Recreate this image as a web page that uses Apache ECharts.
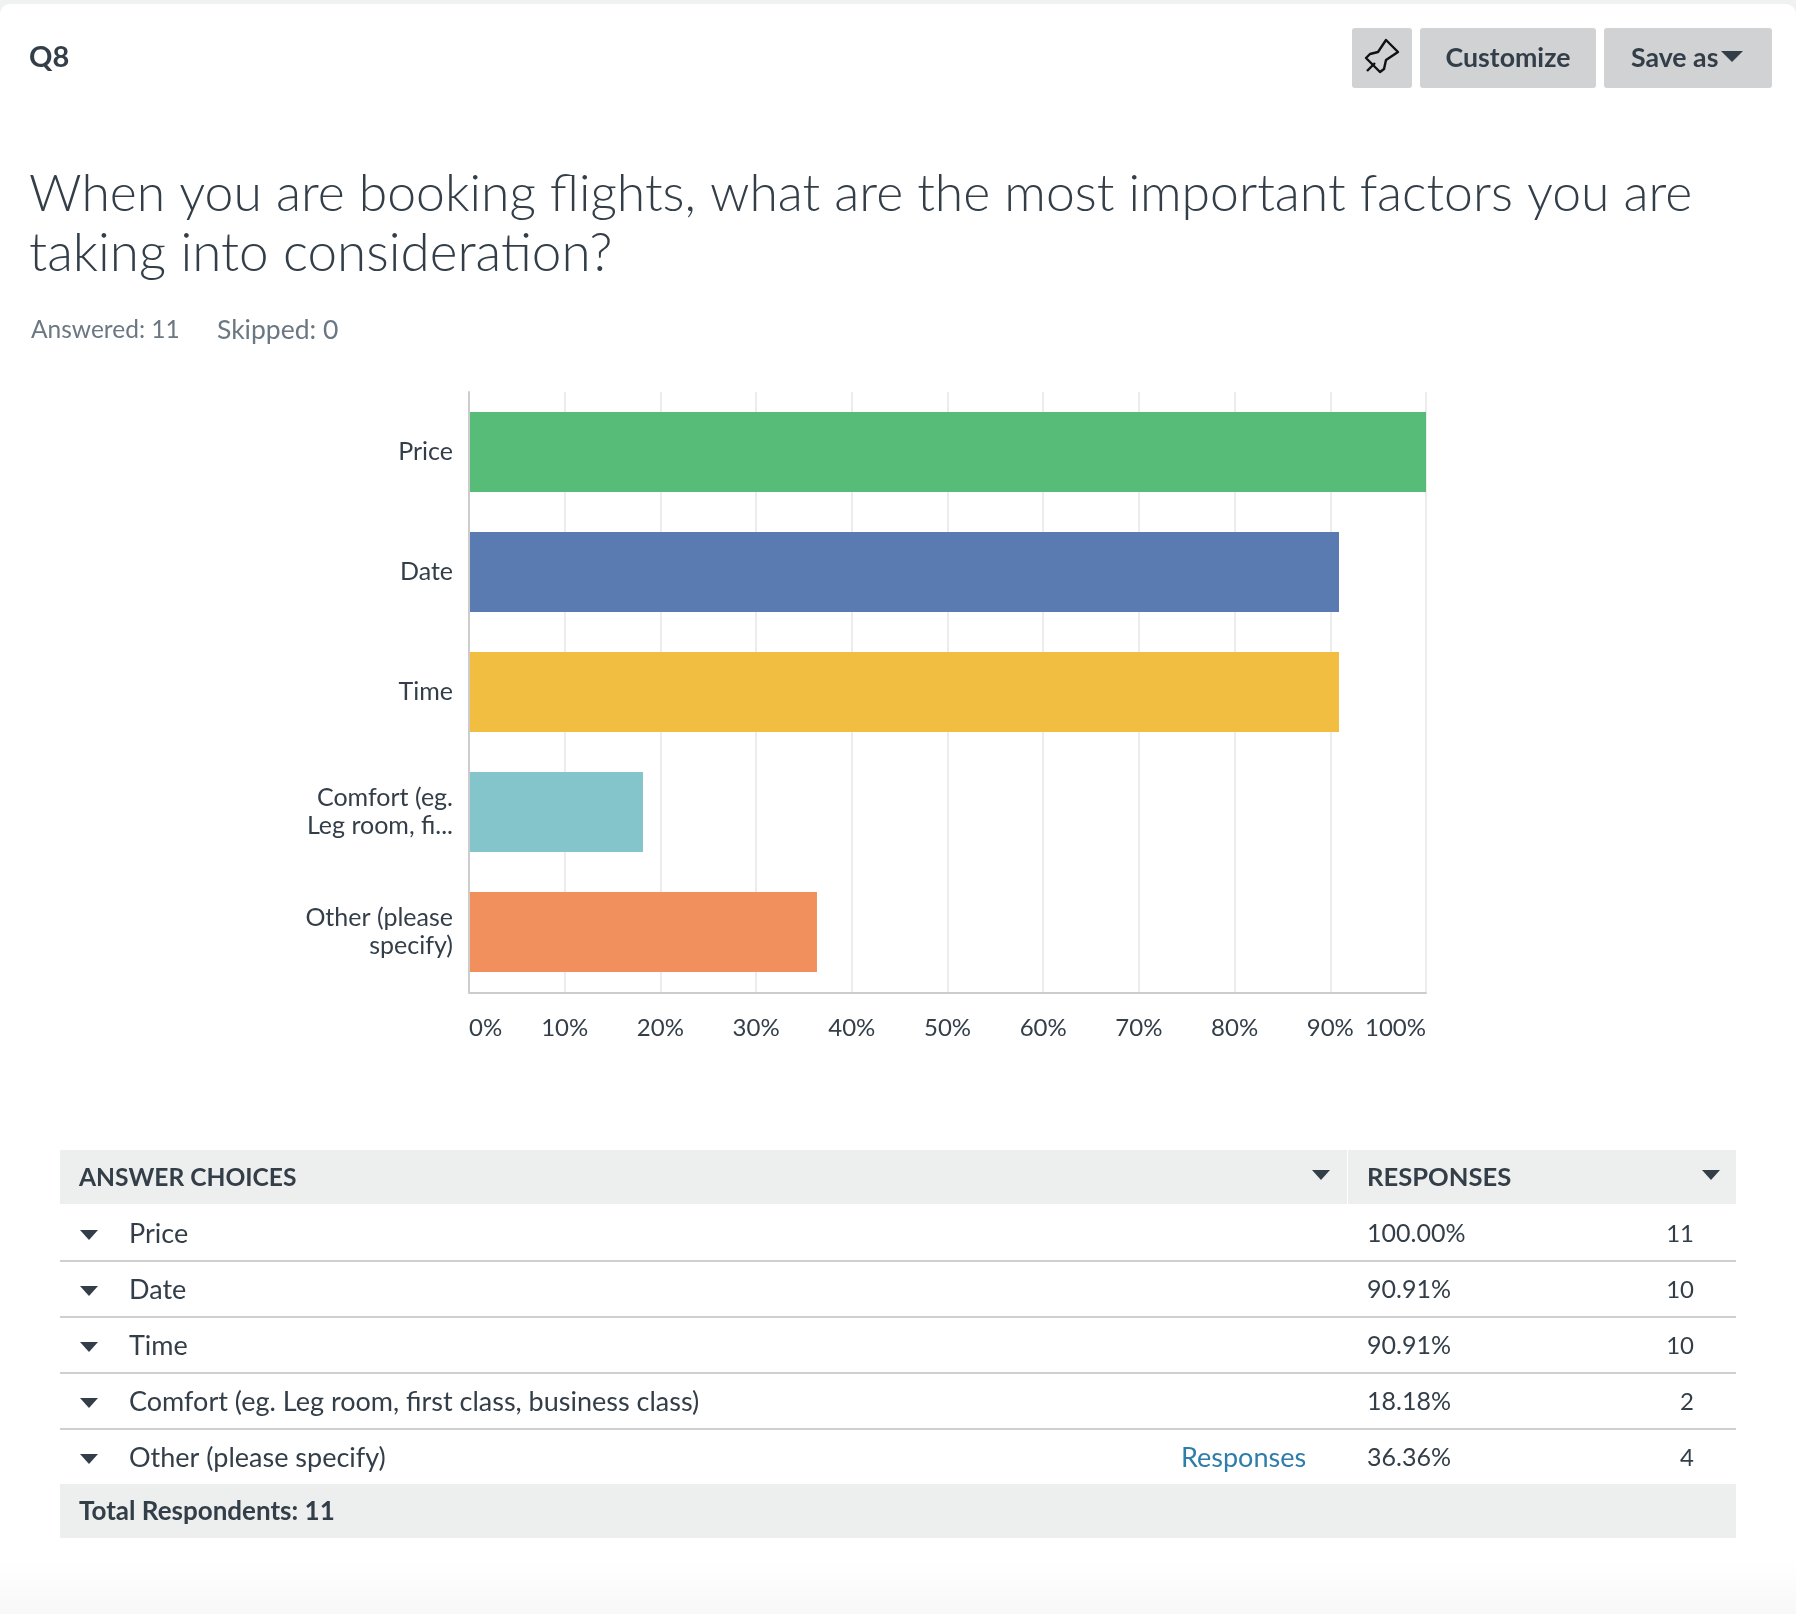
<!DOCTYPE html>
<html>
<head>
<meta charset="utf-8">
<style>html,body{margin:0;padding:0;background:#fff}#chart{width:1796px;height:1614px}</style>
<script src="https://cdn.jsdelivr.net/npm/echarts@6/dist/echarts.min.js"></script>
</head>
<body>
<div id="chart"></div>
<script>
// Survey result for question Q8
const questionId = 'Q8';
const questionLines = [
  'When you are booking flights, what are the most important factors you are',
  'taking into consideration?'
];
const answeredText = 'Answered: 11';
const skippedText = 'Skipped: 0';
const axisCategories = ['Price', 'Date', 'Time', 'Comfort (eg.\nLeg room, fi...', 'Other (please\nspecify)'];
const answerChoices = ['Price', 'Date', 'Time', 'Comfort (eg. Leg room, first class, business class)', 'Other (please specify)'];
const responsePercents = [100, 90.91, 90.91, 18.18, 36.36];
const responseCounts = [11, 10, 10, 2, 4];
const barColors = ['#57bc78', '#597bb1', '#f1be41', '#83c5ca', '#f2905d'];
const totalText = 'Total Respondents: 11';

const ink = '#333e48';
const fontName = 'Lato';
const els = [];

function label(text, x, y, size, opts) {
  opts = opts || {};
  els.push({
    type: 'text', x: x, y: y, silent: true,
    style: {
      text: text,
      fill: opts.fill || ink,
      font: (opts.weight || 400) + ' ' + size + 'px "' + fontName + '", sans-serif',
      textAlign: opts.align || 'left',
      textVerticalAlign: 'middle'
    }
  });
}
function box(x, y, w, h, fill, r) {
  els.push({ type: 'rect', z: -1, silent: true, shape: { x: x, y: y, width: w, height: h, r: r || 0 }, style: { fill: fill } });
}
function caret(x, y, w, h) {
  els.push({ type: 'polygon', silent: true, shape: { points: [[x, y], [x + w, y], [x + w / 2, y + h]] }, style: { fill: ink } });
}

// Card surface with its soft lower edge
box(0, 4, 1796, 1610, '#ffffff', [10, 10, 0, 0]);
els.push({
  type: 'rect', z: -1, silent: true,
  shape: { x: 0, y: 1560, width: 1796, height: 54 },
  style: { fill: { type: 'linear', x: 0, y: 0, x2: 0, y2: 1, colorStops: [{ offset: 0, color: '#ffffff' }, { offset: 1, color: '#f8f8f8' }] } }
});

// Header
label(questionId, 29, 58, 29, { weight: 700 });
box(1352, 28, 60, 60, '#d0d2d3', 3);
box(1420, 28, 176, 60, '#d0d2d3', 3);
box(1604, 28, 168, 60, '#d0d2d3', 3);
els.push({
  type: 'polygon', silent: true,
  shape: { points: [[1386, 40], [1398, 52], [1386, 60], [1384, 69], [1380, 72], [1366, 58], [1370, 54], [1378, 52]] },
  style: { fill: 'none', stroke: '#111111', lineWidth: 2.4, lineJoin: 'round' }
});
els.push({ type: 'line', silent: true, shape: { x1: 1367, y1: 71, x2: 1375, y2: 63 }, style: { stroke: '#111111', lineWidth: 2.4 } });
label('Customize', 1508, 58, 26.7, { weight: 700, align: 'center' });
label('Save as', 1631, 58, 26.7, { weight: 700 });
caret(1721, 51, 22, 11);

// Question text
label(questionLines[0], 29, 194, 51.7, { weight: 300 });
label(questionLines[1], 29, 254, 53, { weight: 300 });
label(answeredText, 31, 330, 24.5, { fill: '#6b7782' });
label(skippedText, 217, 330, 26.5, { fill: '#6b7782' });

// Responses table
box(60, 1150, 1287, 54, '#edefee');
box(1348, 1150, 388, 54, '#edefee');
box(60, 1484, 1676, 54, '#edefee');
label('ANSWER CHOICES', 79, 1178, 24.6, { weight: 700 });
label('RESPONSES', 1367, 1178, 25.6, { weight: 700 });
caret(1312, 1170, 18, 10);
caret(1702, 1170, 18, 10);
answerChoices.forEach(function (name, i) {
  const mid = 1233 + i * 56;
  caret(80, mid - 3, 18, 10);
  label(name, 129, mid + 1, 27);
  label(responsePercents[i].toFixed(2) + '%', 1367, mid + 1, 25);
  label(String(responseCounts[i]), 1694, mid + 1, 24, { align: 'right' });
  if (i < answerChoices.length - 1) box(60, mid + 27, 1676, 2, '#cdcfd0');
});
label('Responses', 1181, 1234 + 4 * 56, 27, { fill: '#2f7dab' });
label(totalText, 79, 1512, 26, { weight: 700 });

const chart = echarts.init(document.getElementById('chart'), null, { renderer: 'canvas' });
chart.setOption({
  animation: false,
  backgroundColor: '#f0f2f2',
  graphic: { elements: els },
  grid: { left: 469, top: 392, width: 957, height: 600, containLabel: false },
  xAxis: {
    type: 'value', min: 0, max: 100, interval: 10, offset: 1,
    axisLine: { show: true, lineStyle: { color: '#cccccc', width: 2 } },
    axisTick: { show: false },
    splitLine: { show: true, lineStyle: { color: '#ececec', width: 2 } },
    axisLabel: {
      formatter: '{value}%', color: ink, fontFamily: fontName, fontSize: 24, margin: 23,
      alignMinLabel: 'left', alignMaxLabel: 'right'
    }
  },
  yAxis: {
    type: 'category', inverse: true, data: axisCategories, z: 3,
    axisLine: { show: true, lineStyle: { color: '#cccccc', width: 2 } },
    axisTick: { show: false },
    splitLine: { show: false },
    axisLabel: {
      color: ink, fontFamily: fontName, fontSize: 25, lineHeight: 28, margin: 16, align: 'right',
      padding: [4, 0, 0, 0]
    }
  },
  series: [{
    type: 'bar', barWidth: 80, silent: true,
    data: responsePercents.map(function (v, i) { return { value: v, itemStyle: { color: barColors[i] } }; })
  }]
});
</script>
</body>
</html>
